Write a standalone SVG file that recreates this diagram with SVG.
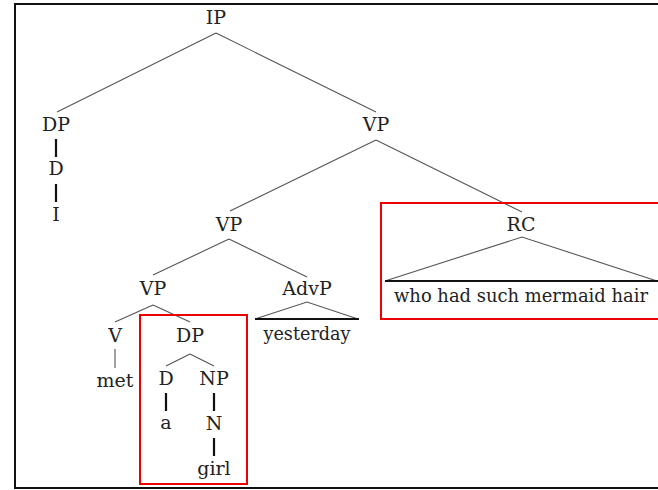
<svg xmlns="http://www.w3.org/2000/svg" width="658" height="490" viewBox="0 0 658 490">
<style>
text{font-family:'DejaVu Serif','Noto Serif','Liberation Serif',serif;font-size:19px;fill:#222;text-anchor:middle}
.br{stroke:#555;stroke-width:1.1;fill:none}
.th{stroke:#111;stroke-width:2.2;fill:none}
.box{stroke:#e00;stroke-width:2;fill:none}
</style>
<rect x="0" y="0" width="658" height="490" fill="#fff"/>
<rect x="15" y="4" width="660" height="484" fill="none" stroke="#111" stroke-width="2"/>
<g id="connectors">
<path class="br" d="M216,33 L57,112 M216,33 L376,112"/>
<path class="th" d="M56,139 V157 M56,184 V202"/>
<path class="br" d="M376,140 L230,211 M376,140 L522,212"/>
<path class="br" d="M229,239 L153,275 M229,239 L307,277"/>
<path class="br" d="M153,305 L115,322 M153,305 L190,322"/>
<path class="br" d="M115,349 V368"/>
<path class="br" d="M190,354 L166,366 M190,354 L214,366"/>
<path class="th" d="M166,393 V411 M214,393 V411 M214,438 V456"/>
<path class="br" d="M255,319 L307,302 L358,319"/>
<path class="th" d="M255,319 H359"/>
<path class="br" d="M385,281 L522,237 L657,281"/>
<path class="th" d="M385,281 H658"/>
</g>
<g id="n-IP"><text x="216" y="24">IP</text></g>
<g id="n-DP1"><text x="56" y="131">DP</text></g>
<g id="n-D1"><text x="56" y="175">D</text></g>
<g id="n-I"><text x="56" y="221">I</text></g>
<g id="n-VP1"><text x="376" y="131">VP</text></g>
<g id="n-VP2"><text x="229" y="231">VP</text></g>
<g id="n-RC"><text x="521" y="231">RC</text></g>
<g id="n-RCtext"><text x="521" y="302" textLength="254" lengthAdjust="spacingAndGlyphs">who had such mermaid hair</text></g>
<g id="n-VP3"><text x="153" y="295">VP</text></g>
<g id="n-AdvP"><text x="307" y="295">AdvP</text></g>
<g id="n-yesterday"><text x="307" y="340" textLength="87" lengthAdjust="spacingAndGlyphs">yesterday</text></g>
<g id="n-V"><text x="115" y="342">V</text></g>
<g id="n-met"><text x="115" y="387">met</text></g>
<g id="n-DP2"><text x="190" y="342">DP</text></g>
<g id="n-D2"><text x="166" y="385">D</text></g>
<g id="n-NP"><text x="214" y="385">NP</text></g>
<g id="n-a"><text x="166" y="429">a</text></g>
<g id="n-N"><text x="214" y="430">N</text></g>
<g id="n-girl"><text x="214" y="475">girl</text></g>
<rect class="box" x="381" y="203" width="290" height="116"/>
<rect class="box" x="140" y="315" width="107" height="169"/>
</svg>
